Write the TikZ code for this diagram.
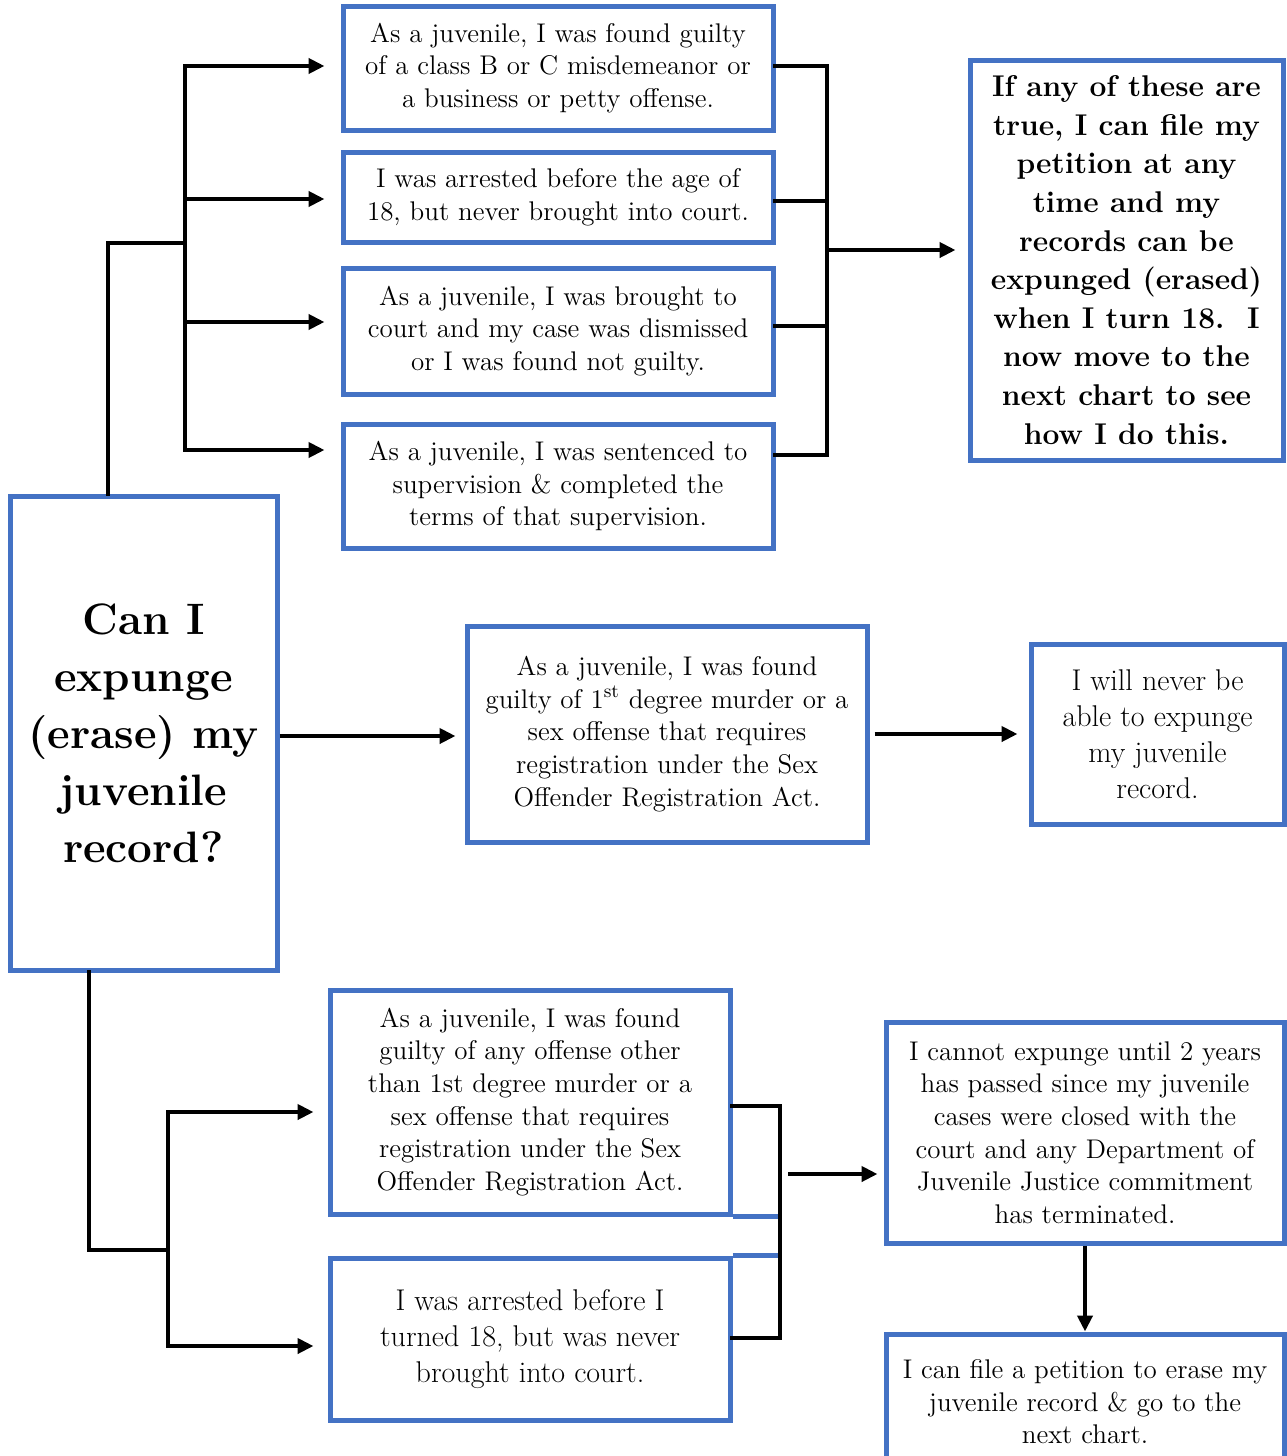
\documentclass[tikz,border=0pt]{standalone}
\usepackage{fontspec}
\usepackage{tikz}
\usetikzlibrary{arrows.meta,positioning,calc}
\definecolor{boxblue}{RGB}{68,114,196}

\begin{document}
\begin{tikzpicture}[x=0.5pt,y=-0.5pt,
  box/.style={draw=boxblue,line width=2.5pt,align=center,inner sep=0pt,
    font=\fontsize{13.5}{16.3}\selectfont},
  link/.style={line width=2.2pt,line cap=rect},
  arr/.style={line width=2.2pt,-{Triangle[length=8pt,width=7.5pt]}}]
\useasboundingbox (0,0) rectangle (1286,1456);
\node[box,minimum width=215pt,minimum height=62pt] (b1) at (558,68)
  {As a juvenile, I was found guilty\\of a class B or C misdemeanor or\\a business or petty offense.};
\node[box,minimum width=215pt,minimum height=45pt] (b2) at (558,197)
  {I was arrested before the age of\\18, but never brought into court.};
\node[box,minimum width=215pt,minimum height=63pt] (b3) at (558,331)
  {As a juvenile, I was brought to\\court and my case was dismissed\\or I was found not guilty.};
\node[box,minimum width=215pt,minimum height=62pt] (b4) at (558,486)
  {As a juvenile, I was sentenced to\\supervision \& completed the\\terms of that supervision.};
\node[box,minimum width=156.5pt,minimum height=200pt,font=\fontsize{15}{19.3}\selectfont\bfseries] (res) at (1126.5,260)
  {If any of these are\\true, I can file my\\petition at any\\time and my\\records can be\\expunged (erased)\\when I turn 18.~~I\\now move to the\\next chart to see\\how I do this.};
\node[box,minimum width=133.5pt,minimum height=237pt,font=\fontsize{22}{28.5}\selectfont\bfseries] (main) at (143.5,733)
  {Can I\\expunge\\(erase) my\\juvenile\\record?};
\node[box,minimum width=200pt,minimum height=108pt] (murder) at (667,734)
  {As a juvenile, I was found\\guilty of 1\textsuperscript{st} degree murder or a\\sex offense that requires\\registration under the Sex\\Offender Registration Act.};
\node[box,minimum width=126.5pt,minimum height=90pt,font=\fontsize{15}{18}\selectfont] (never) at (1157.5,734)
  {I will never be\\able to expunge\\my juvenile\\record.};
\node[box,minimum width=200pt,minimum height=112pt] (other) at (530,1102)
  {As a juvenile, I was found\\guilty of any offense other\\than 1st degree murder or a\\sex offense that requires\\registration under the Sex\\Offender Registration Act.};
\node[box,minimum width=200pt,minimum height=81pt,font=\fontsize{15}{18}\selectfont] (arrest) at (530,1339)
  {I was arrested before I\\turned 18, but was never\\brought into court.};
\node[box,minimum width=199pt,minimum height=110.5pt] (wait) at (1085,1132.5)
  {I cannot expunge until 2 years\\has passed since my juvenile\\cases were closed with the\\court and any Department of\\Juvenile Justice commitment\\has terminated.};
\node[box,minimum width=199pt,minimum height=68pt] (file) at (1085,1402)
  {I can file a petition to erase my\\juvenile record \& go to the\\next chart.};

\coordinate (tbus) at (185,243);
\coordinate (a1) at (185,66);
\coordinate (a2) at (185,199);
\coordinate (a3) at (185,322);
\coordinate (a4) at (185,450);
\draw[link] ([xshift=-17.75pt]main.north) |- (tbus);
\draw[link] (a1) -- (a4);
\draw[arr,shorten >=8pt] (a1) -- (a1 -| b1.west);
\draw[arr,shorten >=8pt] (a2) -- (a2 -| b2.west);
\draw[arr,shorten >=8pt] (a3) -- (a3 -| b3.west);
\draw[arr,shorten >=8pt] (a4) -- (a4 -| b4.west);

\coordinate (r1) at (827,66);
\coordinate (r2) at (827,201);
\coordinate (r3) at (827,326);
\coordinate (r4) at (827,455);
\coordinate (rmid) at (827,250);
\draw[link] (r1 -| b1.east) -- (r1) -- (r4) -- (r4 -| b4.east);
\draw[link] (r2 -| b2.east) -- (r2);
\draw[link] (r3 -| b3.east) -- (r3);
\draw[arr,shorten >=6pt] (rmid) -- (rmid -| res.west);

\coordinate (mid) at (277,736);
\draw[arr,shorten >=4.5pt] (mid -| main.east) -- (mid -| murder.west);
\draw[arr,shorten <=2.5pt,shorten >=5.5pt] (murder) -- (never);

\coordinate (lbus) at (168,1250);
\coordinate (c1) at (168,1112);
\coordinate (c2) at (168,1346);
\draw[link] ([xshift=-27.25pt]main.south) |- (lbus);
\draw[link] (c1) -- (c2);
\draw[arr,shorten >=7pt] (c1) -- (c1 -| other.west);
\draw[arr,shorten >=7pt] (c2) -- (c2 -| arrest.west);

\coordinate (d1) at (780,1106);
\coordinate (d2) at (780,1338);
\coordinate (e1) at (788,1174);
\draw[draw=boxblue,line width=2.5pt] (other.south east) -- (other.south east -| d1);
\draw[draw=boxblue,line width=2.5pt] (arrest.north east) -- (arrest.north east -| d1);
\draw[link] (d1 -| other.east) -- (d1) -- (d2) -- (d2 -| arrest.east);
\draw[arr,shorten >=3pt] (e1) -- (e1 -| wait.west);
\draw[arr] (wait) -- (file);
\end{tikzpicture}
\end{document}
